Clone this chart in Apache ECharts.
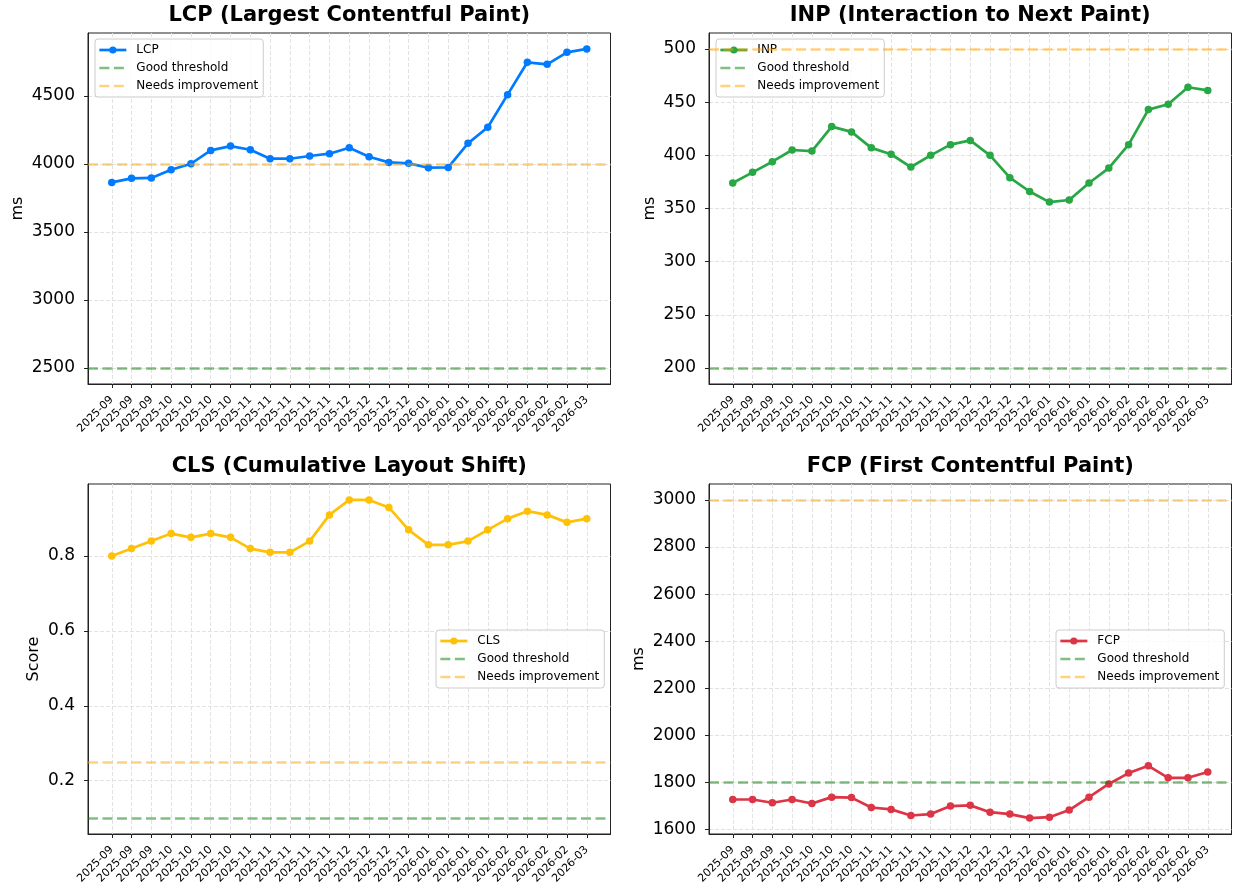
<!DOCTYPE html>
<html><head><meta charset="utf-8">
<script src="https://cdn.jsdelivr.net/npm/echarts@6/dist/echarts.min.js"></script>
<style>html,body{margin:0;padding:0;background:#fff}#c{width:1233px;height:895px}</style>
</head><body><div id="c"></div><script>
// ---- data ----
const categories = ['2025-09','2025-09','2025-09','2025-10','2025-10','2025-10','2025-10',
  '2025-11','2025-11','2025-11','2025-11','2025-11','2025-12','2025-12','2025-12','2025-12',
  '2026-01','2026-01','2026-01','2026-01','2026-02','2026-02','2026-02','2026-02','2026-03'];
const lcpValues = [3865,3895,3898,3958,4002,4100,4132,4105,4039,4039,4059,4076,4120,4054,4012,4005,3973,3975,4152,4270,4510,4748,4733,4821,4846];
const inpValues = [374,384,394,405,404,427,422,407,401,389,400,410,414,400,379,366,356,358,374,388,410,443,448,464,461];
const clsValues = [0.80,0.82,0.84,0.86,0.85,0.86,0.85,0.82,0.81,0.81,0.84,0.91,0.95,0.95,0.93,0.87,0.83,0.83,0.84,0.87,0.90,0.92,0.91,0.89,0.90];
const fcpValues = [1728,1728,1714,1728,1711,1738,1736,1694,1686,1660,1666,1700,1703,1674,1666,1649,1653,1683,1738,1794,1840,1871,1820,1820,1845];
const lcpGood = 2500, lcpPoor = 4000;
const inpGood = 200, inpPoor = 500;
const clsGood = 0.1, clsPoor = 0.25;
const fcpGood = 1800, fcpPoor = 3000;
const lcpTicks = [2500,3000,3500,4000,4500];
const inpTicks = [200,250,300,350,400,450,500];
const clsTicks = [0.2,0.4,0.6,0.8];
const fcpTicks = [1600,1800,2000,2200,2400,2600,2800,3000];
const legendNames = ['Good threshold','Needs improvement'];

// ---- layout / style ----
const F = 'DejaVu Sans';
const goodColor = 'rgba(0,128,0,0.5)';
const poorColor = 'rgba(255,165,0,0.5)';
const W = 522.5;
const panels = [
  {title:'LCP (Largest Contentful Paint)', name:'LCP', values:lcpValues, good:lcpGood, poor:lcpPoor, ticks:lcpTicks, color:'#007bff', yName:'ms', nameGap:62, left:88, top:33, h:351, titleTop:5, lg:{left:95, top:39}},
  {title:'INP (Interaction to Next Paint)', name:'INP', values:inpValues, good:inpGood, poor:inpPoor, ticks:inpTicks, color:'#28a745', yName:'ms', nameGap:51, left:709, top:33, h:351, titleTop:5, lg:{left:716, top:39}},
  {title:'CLS (Cumulative Layout Shift)', name:'CLS', values:clsValues, good:clsGood, poor:clsPoor, ticks:clsTicks, color:'#ffc107', yName:'Score', nameGap:46, left:88, top:484, h:350, titleTop:456, lg:{left:436, top:630}},
  {title:'FCP (First Contentful Paint)', name:'FCP', values:fcpValues, good:fcpGood, poor:fcpPoor, ticks:fcpTicks, color:'#dc3545', yName:'ms', nameGap:62, left:709, top:484, h:350, titleTop:456, lg:{left:1056, top:630}}
];
const n = categories.length;
const xPad = 0.05 * (n - 1);
const idx = categories.map((_, i) => i);
const dash = [10, 4.5];

const option = {animation:false, backgroundColor:'#fff', title:[], grid:[], xAxis:[], yAxis:[], legend:[], series:[]};
panels.forEach((p, i) => {
  const all = p.values.concat([p.good, p.poor]);
  const lo = Math.min(...all), hi = Math.max(...all);
  const yPad = 0.05 * (hi - lo);
  option.title.push({text:p.title, left:p.left + W/2, top:p.titleTop, textAlign:'center', padding:0,
    textStyle:{fontFamily:F, fontSize:21, fontWeight:'bold', color:'#000'}});
  option.grid.push({left:p.left, top:p.top, width:W, height:p.h, show:true, borderColor:'#222', borderWidth:1, backgroundColor:'transparent'});
  option.xAxis.push({type:'value', gridIndex:i, min:-xPad, max:n-1+xPad,
    axisLine:{show:true, onZero:false, lineStyle:{color:'#222', width:1}},
    axisTick:{show:true, customValues:idx, length:4, lineStyle:{color:'#222'}},
    axisLabel:{customValues:idx, formatter:v => categories[Math.round(v)], rotate:45, fontSize:11, color:'#000', fontFamily:F, margin:14},
    splitLine:{show:true, lineStyle:{color:'#e2e2e2', type:[4,2], width:1}}});
  option.yAxis.push({type:'value', gridIndex:i, min:lo - yPad, max:hi + yPad,
    name:p.yName, nameLocation:'middle', nameGap:p.nameGap, nameTextStyle:{fontFamily:F, fontSize:16, color:'#000'},
    axisLine:{show:true, onZero:false, lineStyle:{color:'#222', width:1}},
    axisTick:{show:true, customValues:p.ticks, length:4, lineStyle:{color:'#222'}},
    axisLabel:{customValues:p.ticks, formatter:v => String(v), fontSize:17, color:'#000', fontFamily:F, margin:13},
    splitLine:{show:true, lineStyle:{color:'#e2e2e2', type:[4,2], width:1}}});
  option.series.push({type:'line', name:p.name, xAxisIndex:i, yAxisIndex:i,
    data:p.values.map((v, j) => [j, v]), color:p.color, symbol:'circle', symbolSize:7.5, showSymbol:true,
    lineStyle:{width:2.7, color:p.color}, itemStyle:{color:p.color}, z:2});
  const thr = [[legendNames[0], p.good, goodColor], [legendNames[1], p.poor, poorColor]];
  thr.forEach(([nm, val, col]) => {
    option.series.push({type:'line', name:nm, xAxisIndex:i, yAxisIndex:i, data:[], symbol:'none', color:col,
      lineStyle:{type:dash, width:2.5, color:col}, z:3,
      markLine:{silent:true, symbol:['none','none'], label:{show:false}, emphasis:{disabled:true},
        lineStyle:{type:dash, width:2.5, color:col}, data:[{yAxis:val}]}});
  });
  option.legend.push({
    data:[{name:p.name, lineStyle:{width:2.7, color:p.color}}].concat(thr.map(([nm, , col]) => ({name:nm,
      itemStyle:{color:'rgba(0,0,0,0)', borderWidth:0, opacity:0},
      lineStyle:{type:dash, width:2.5, color:col}}))),
    orient:'vertical', left:p.lg.left, top:p.lg.top,
    itemWidth:27, itemHeight:9, itemGap:6, padding:[5,5,5,3], selectedMode:false,
    backgroundColor:'rgba(255,255,255,0.8)', borderColor:'#cccccc', borderWidth:1, borderRadius:3,
    textStyle:{fontFamily:F, fontSize:12, color:'#000', padding:[0,0,0,5]}});
});
const chart = echarts.init(document.getElementById('c'), null, {renderer:'canvas'});
chart.setOption(option);
</script></body></html>
